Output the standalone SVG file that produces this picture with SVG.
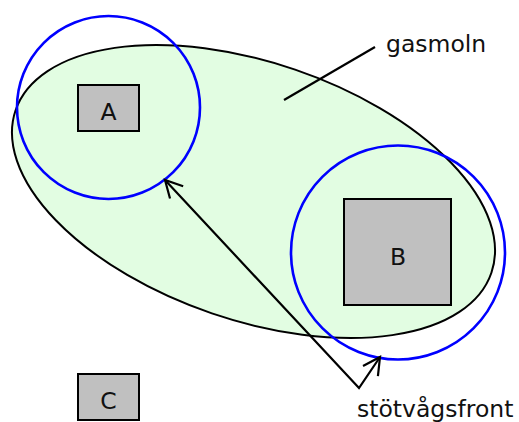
<svg xmlns="http://www.w3.org/2000/svg" width="519" height="422" viewBox="0 0 519 422">
<style>
.box{fill:#c0c0c0;stroke:#000;stroke-width:2}
.lbl{font-family:"DejaVu Sans",Verdana,sans-serif;font-size:23.5px;fill:#111}
.wave{fill:none;stroke:#0000ff;stroke-width:2.6}
.line{fill:none;stroke:#000;stroke-width:2.2}
</style>
<defs>
<marker id="head" markerUnits="userSpaceOnUse" viewBox="-20 -12 24 24" refX="0" refY="0" markerWidth="24" markerHeight="24" orient="auto-start-reverse" overflow="visible">
<path d="M-17,-9 L0,0 L-17,9" fill="none" stroke="#000" stroke-width="2.2" stroke-linejoin="miter"/>
</marker>
</defs>
<rect width="519" height="422" fill="#fff"/>
<g id="gasmoln">
<ellipse cx="253.5" cy="191.5" rx="251.4" ry="128.8" transform="rotate(18.85 253.5 191.5)" fill="#e2fde2" stroke="#000" stroke-width="2"/>
<line class="line" x1="375" y1="47" x2="284" y2="100"/>
<text class="lbl" x="386" y="52">gasmoln</text>
</g>
<g id="A">
<rect class="box" x="78" y="85" width="61" height="46"/>
<text class="lbl" x="108.5" y="120" text-anchor="middle">A</text>
</g>
<g id="B">
<rect class="box" x="344" y="199" width="107" height="106"/>
<text class="lbl" x="398" y="265" text-anchor="middle">B</text>
</g>
<g id="C">
<rect class="box" x="78" y="374" width="61" height="46"/>
<text class="lbl" x="108.5" y="409" text-anchor="middle">C</text>
</g>
<g id="waves">
<circle class="wave" cx="108.5" cy="107.5" r="91.5"/>
<circle class="wave" cx="398" cy="252.5" r="107"/>
</g>
<g id="connectors">
<path class="line" d="M165,180 L359,388 L380,357" marker-start="url(#head)" marker-end="url(#head)" stroke-linejoin="miter"/>
<text class="lbl" x="357" y="417">stötvågsfront</text>
</g>
</svg>
